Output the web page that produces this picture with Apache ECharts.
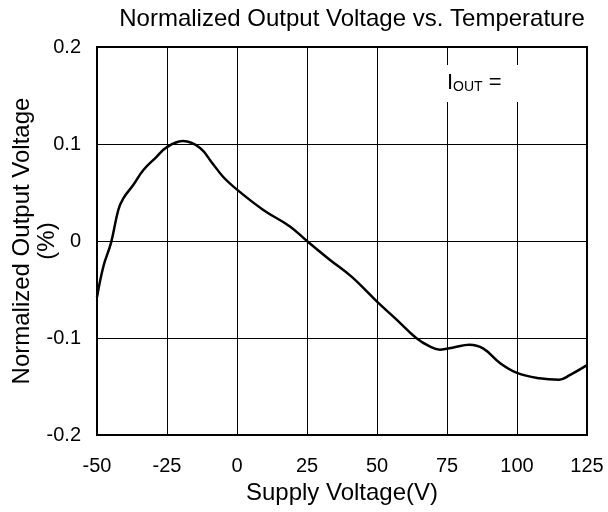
<!DOCTYPE html>
<html>
<head>
<meta charset="utf-8">
<script src="https://cdn.jsdelivr.net/npm/echarts@6/dist/echarts.min.js"></script>
<style>
  html, body { margin: 0; padding: 0; background: #fff; }
  #main { width: 608px; height: 512px; }
</style>
</head>
<body>
<div id="main"></div>
<script>
// DATA ---------------------------------------------------------------
var temps = [-50, -47.7, -45, -42.4, -40.6, -37, -33.5, -29, -24.9, -19.2, -13.2, -9, -4.9, 0,
             9.4, 18.9, 25, 33, 41, 50, 57, 64, 69, 72.5, 77, 83, 88, 94, 100, 108, 115, 119, 125];
var voltage = [-0.058, -0.026, -0.002, 0.032, 0.044, 0.058, 0.073, 0.086, 0.097, 0.103, 0.096, 0.081, 0.066, 0.053,
               0.032, 0.015, 0, -0.019, -0.037, -0.0625, -0.081, -0.1, -0.109, -0.112, -0.110, -0.107, -0.111,
               -0.126, -0.136, -0.1415, -0.143, -0.138, -0.128];
var xTicks = [-50, -25, 0, 25, 50, 75, 100, 125];
var yTicks = [-0.2, -0.1, 0, 0.1, 0.2];

var font = 'Liberation Sans, Arial, sans-serif';

var chart = echarts.init(document.getElementById('main'));

var points = [];
for (var i = 0; i < temps.length; i++) {
    points.push([temps[i], voltage[i]]);
}

var option = {
    animation: false,
    title: {
        text: 'Normalized Output Voltage vs. Temperature',
        left: 347,
        top: 2,
        textAlign: 'center',
        textStyle: { fontFamily: font, fontSize: 24, fontWeight: 'normal', color: '#000' }
    },
    grid: {
        left: 97, right: 21, top: 47, bottom: 77,
        containLabel: false,
        outerBoundsMode: 'none',
        show: true,
        borderColor: '#000',
        borderWidth: 2
    },
    xAxis: {
        type: 'value',
        min: xTicks[0],
        max: xTicks[xTicks.length - 1],
        interval: 25,
        name: 'Supply Voltage(V)',
        nameLocation: 'middle',
        nameGap: 46,
        nameMoveOverlap: false,
        nameTextStyle: { fontFamily: font, fontSize: 24, color: '#000' },
        axisLine: { show: false },
        axisTick: { show: false },
        axisLabel: { fontFamily: font, fontSize: 20, color: '#000', margin: 21 },
        splitLine: { lineStyle: { color: '#000', width: 1 } }
    },
    yAxis: {
        type: 'value',
        min: yTicks[0],
        max: yTicks[yTicks.length - 1],
        interval: 0.1,
        name: 'Normalized Output Voltage\n(%)',
        nameLocation: 'middle',
        nameRotate: 90,
        nameGap: 37,
        nameMoveOverlap: false,
        nameTextStyle: { fontFamily: font, fontSize: 24, color: '#000', lineHeight: 25 },
        axisLine: { show: false },
        axisTick: { show: true, inside: true, length: 6, lineStyle: { color: '#000' } },
        axisLabel: {
            fontFamily: font, fontSize: 20, color: '#000', margin: 16,
            formatter: function (v) { return v === 0 ? '0' : String(Math.round(v * 10) / 10); }
        },
        splitLine: { lineStyle: { color: '#000', width: 1 } }
    },
    // I_OUT legend box (white, covers grid lines)
    graphic: [{
        type: 'rect',
        shape: { x: 442, y: 65, width: 120, height: 37 },
        style: { fill: '#fff' },
        z: 100
    }, {
        type: 'text',
        x: 447,
        y: 72,
        z: 101,
        style: {
            text: '{m|I}{s|OUT}{m| =}',
            rich: {
                m: { fontFamily: font, fontSize: 22, fill: '#000' },
                s: { fontFamily: font, fontSize: 14, fill: '#000', padding: [8, 0, 0, 0] }
            }
        }
    }],
    series: [{
        type: 'line',
        data: points,
        smooth: 0.4,
        symbol: 'none',
        lineStyle: { color: '#000', width: 2.5 }
    }]
};

chart.setOption(option);
</script>
</body>
</html>
